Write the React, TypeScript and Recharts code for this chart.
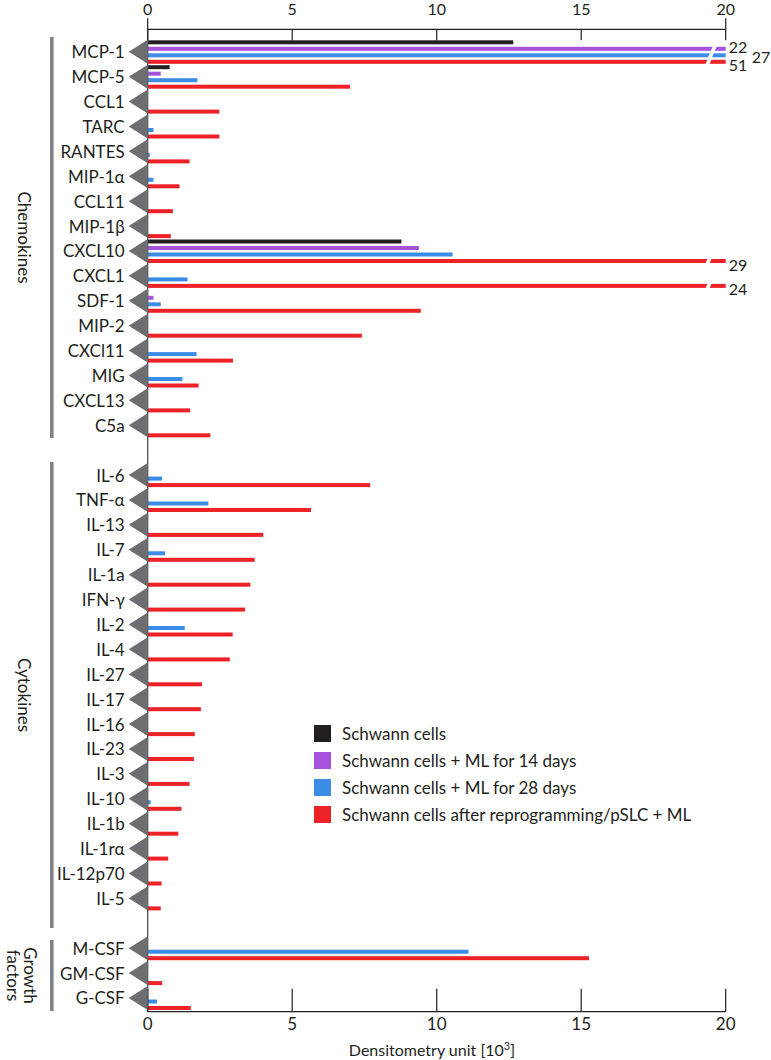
import React from 'react';
import { BarChart, Bar, XAxis, YAxis, Legend } from 'recharts';

// categories, top to bottom
const chemokines = ['MCP-1', 'MCP-5', 'CCL1', 'TARC', 'RANTES', 'MIP-1α', 'CCL11', 'MIP-1β', 'CXCL10', 'CXCL1', 'SDF-1', 'MIP-2', 'CXCl11', 'MIG', 'CXCL13', 'C5a'];
const cytokines = ['IL-6', 'TNF-α', 'IL-13', 'IL-7', 'IL-1a', 'IFN-γ', 'IL-2', 'IL-4', 'IL-27', 'IL-17', 'IL-16', 'IL-23', 'IL-3', 'IL-10', 'IL-1b', 'IL-1rα', 'IL-12p70', 'IL-5'];
const growthFactors = ['M-CSF', 'GM-CSF', 'G-CSF'];

// densitometry units [10^3], 0 = no bar
const schwannChemo = [12.65, 0.76, 0, 0, 0, 0, 0, 0, 8.78, 0, 0, 0, 0, 0, 0, 0];
const ml14Chemo = [22, 0.45, 0, 0, 0, 0, 0, 0, 9.38, 0, 0.2, 0, 0, 0, 0, 0];
const ml28Chemo = [27, 1.72, 0, 0.2, 0.07, 0.2, 0, 0, 10.55, 1.38, 0.45, 0, 1.69, 1.2, 0, 0];
const pslcChemo = [51, 7.0, 2.48, 2.48, 1.45, 1.1, 0.87, 0.8, 29, 24, 9.45, 7.41, 2.95, 1.76, 1.47, 2.17];

const schwannCyto = new Array(18).fill(0);
const ml14Cyto = new Array(18).fill(0);
const ml28Cyto = [0.5, 2.1, 0, 0.6, 0, 0, 1.28, 0, 0, 0, 0, 0, 0, 0.1, 0, 0, 0, 0];
const pslcCyto = [7.7, 5.65, 4.0, 3.7, 3.55, 3.37, 2.94, 2.84, 1.88, 1.84, 1.63, 1.6, 1.45, 1.17, 1.06, 0.71, 0.48, 0.45];

const schwannGrowth = [0, 0, 0];
const ml14Growth = [0, 0, 0];
const ml28Growth = [11.1, 0, 0.32];
const pslcGrowth = [15.27, 0.5, 1.49];

const AXIS_MAX = 20;
const xTicks = [0, 5, 10, 15, 20];
const FONT = 'Lato, "Open Sans", sans-serif';
const INK = '#231f20';

const series = [
  { key: 'sc', label: 'Schwann cells', color: '#231f20', breakAt: 19.5, labelDx: 3, labelDy: 0 },
  { key: 'd14', label: 'Schwann cells + ML for 14 days', color: '#a552de', breakAt: 19.56, labelDx: 3, labelDy: -3 },
  { key: 'd28', label: 'Schwann cells + ML for 28 days', color: '#3a8ce6', breakAt: 19.46, labelDx: 26, labelDy: 0 },
  { key: 'pslc', label: 'Schwann cells after reprogramming/pSLC + ML', color: '#ec2227', breakAt: 19.38, labelDx: 3, labelDy: 2 },
];

const groups = [
  { title: ['Chemokines'], names: chemokines, sc: schwannChemo, d14: ml14Chemo, d28: ml28Chemo, pslc: pslcChemo, span: [37, 438] },
  { title: ['Cytokines'], names: cytokines, sc: schwannCyto, d14: ml14Cyto, d28: ml28Cyto, pslc: pslcCyto, span: [462, 928] },
  { title: ['Growth', 'factors'], names: growthFactors, sc: schwannGrowth, d14: ml14Growth, d28: ml28Growth, pslc: pslcGrowth, span: [940, 1011] },
];

const rows: any[] = [];
groups.forEach((g, gi) => {
  if (gi > 0) rows.push({ name: `_gap${gi}` });
  g.names.forEach((n, i) => {
    rows.push({ name: n, sc: g.sc[i], d14: g.d14[i], d28: g.d28[i], pslc: g.pslc[i] });
  });
});

const CategoryTick = ({ x, y, payload }: any) => {
  const name = String(payload.value);
  if (name.startsWith('_')) return null;
  return (
    <g>
      <polygon points={`${x},${y - 12} ${x},${y + 12} ${x - 19},${y}`} fill="#6d6e71" />
      <text x={x - 23} y={y} textAnchor="end" dominantBaseline="central" fontSize={17} fontFamily={FONT} fill={INK}>
        {name}
      </text>
    </g>
  );
};

const TopTick = ({ x, y, payload }: any) => {
  const edge = payload.value === 0 || payload.value === AXIS_MAX;
  return (
    <g>
      <line x1={x} x2={x} y1={edge ? y - 11 : y} y2={y + 11} stroke={INK} strokeWidth={1.2} />
      <text x={x} y={y - 14} textAnchor="middle" fontSize={16} fontFamily={FONT} fill={INK}>{payload.value}</text>
    </g>
  );
};

const BottomTick = ({ x, y, payload }: any) => (
  <g>
    <line x1={x} x2={x} y1={y - 23} y2={y} stroke={INK} strokeWidth={1.2} />
    <text x={x} y={y + 18} textAnchor="middle" fontSize={17} fontFamily={FONT} fill={INK}>{payload.value}</text>
  </g>
);

const BarShape = (props: any) => {
  const { x, y, width, height, fill, payload, s } = props;
  const raw = payload ? payload[s.key] : 0;
  if (!raw || !(width > 0)) return null;
  const broken = raw > AXIS_MAX;
  const gx = x + (width * s.breakAt) / AXIS_MAX;
  const t = y - 0.8;
  const b = y + height + 0.8;
  return (
    <g>
      <rect x={x} y={y} width={width} height={height} fill={fill} />
      {broken && <polygon points={`${gx - 2.5},${b} ${gx + 1.5},${b} ${gx + 4},${t} ${gx},${t}`} fill="#fff" />}
      {broken && (
        <text
          x={x + width + s.labelDx}
          y={y + height / 2 + 1 + s.labelDy}
          dominantBaseline="central"
          fontSize={16}
          fontFamily={FONT}
          fill={INK}
        >
          {raw}
        </text>
      )}
    </g>
  );
};

const LegendBox = () => (
  <div style={{ fontFamily: FONT }}>
    {series.map((s) => (
      <div key={s.key} style={{ display: 'flex', alignItems: 'center', height: 27 }}>
        <span style={{ display: 'inline-block', width: 17, height: 17, background: s.color, marginRight: 11 }} />
        <span style={{ fontSize: 17, color: INK, whiteSpace: 'nowrap' }}>{s.label}</span>
      </div>
    ))}
  </div>
);

export default function App() {
  return (
    <div style={{ position: 'absolute', left: 0, top: 0, width: 771, height: 1060, background: '#fff', fontFamily: FONT }}>
      <BarChart
        width={771}
        height={1060}
        data={rows}
        layout="vertical"
        margin={{ top: 28, right: 45.3, bottom: 47, left: 87.7 }}
        barSize={4}
        barGap={2.5}
      >
        <XAxis
          xAxisId="top"
          orientation="top"
          type="number"
          domain={[0, AXIS_MAX]}
          ticks={xTicks}
          allowDataOverflow
          height={1.3}
          tickSize={0}
          tickMargin={0}
          tickLine={false}
          axisLine={{ stroke: INK, strokeWidth: 1.2 }}
          tick={<TopTick />}
        />
        <XAxis
          xAxisId="bottom"
          orientation="bottom"
          type="number"
          domain={[0, AXIS_MAX]}
          ticks={xTicks}
          height={1.3}
          tickSize={0}
          tickMargin={0}
          tickLine={false}
          axisLine={{ stroke: INK, strokeWidth: 1.2 }}
          tick={<BottomTick />}
        />
        <YAxis
          type="category"
          dataKey="name"
          width={60}
          interval={0}
          padding={{ top: 10, bottom: 1.3 }}
          tickSize={0}
          tickMargin={0}
          tickLine={false}
          axisLine={{ stroke: '#4d4d4f', strokeWidth: 1.3 }}
          tick={<CategoryTick />}
        />
        <Legend
          layout="vertical"
          align="center"
          verticalAlign="middle"
          content={<LegendBox />}
          wrapperStyle={{ left: 314, top: 720, width: 440, height: 110 }}
        />
        {series.map((s) => (
          <Bar
            key={s.key}
            xAxisId="bottom"
            name={s.label}
            dataKey={(d: any) => (d[s.key] == null ? null : Math.min(d[s.key], AXIS_MAX))}
            fill={s.color}
            isAnimationActive={false}
            shape={(p: any) => <BarShape {...p} s={s} />}
          />
        ))}
      </BarChart>
      <svg width={771} height={1060} style={{ position: 'absolute', left: 0, top: 0, pointerEvents: 'none' }}>
        {groups.map((g) => {
          const cy = (g.span[0] + g.span[1]) / 2;
          return (
            <g key={g.title.join(' ')}>
              <rect x={50} y={g.span[0]} width={3.6} height={g.span[1] - g.span[0]} fill="#808285" />
              {g.title.map((line, i) => {
                const cx = g.title.length === 1 ? 24 : 30 - i * 17;
                return (
                  <text
                    key={line}
                    x={cx}
                    y={cy}
                    transform={`rotate(90 ${cx} ${cy})`}
                    textAnchor="middle"
                    dominantBaseline="central"
                    fontSize={17}
                    fontFamily={FONT}
                    fill={INK}
                  >
                    {line}
                  </text>
                );
              })}
            </g>
          );
        })}
        <text x={432} y={1056} textAnchor="middle" fontSize={16} fontFamily={FONT} fill={INK}>
          Densitometry unit [10<tspan dy={-6} fontSize={11}>3</tspan>
          <tspan dy={6}>]</tspan>
        </text>
      </svg>
    </div>
  );
}
